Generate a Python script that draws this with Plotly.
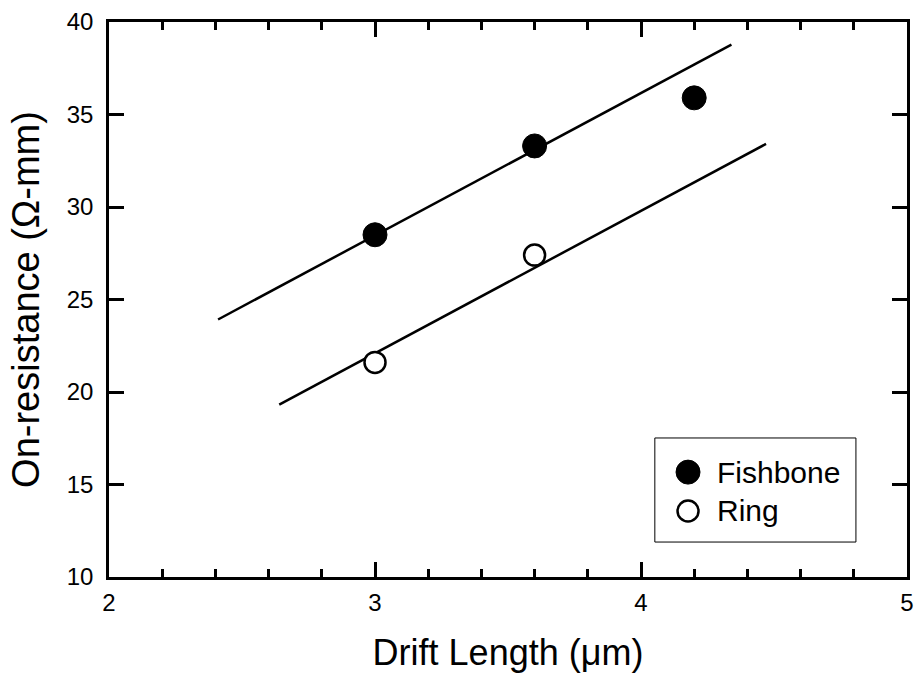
import plotly.graph_objects as go

# Measured on-resistance versus drift length
drift_length = [3.0, 3.6, 4.2]
fishbone_ron = [28.5, 33.3, 35.9]
ring_x = [3.0, 3.6]
ring_ron = [21.6, 27.4]

# Linear fit segments (end points)
fishbone_fit_x = [2.41, 4.34]
fishbone_fit_y = [23.92, 38.78]
ring_fit_x = [2.64, 4.47]
ring_fit_y = [19.32, 33.41]

x_ticks = [2, 3, 4, 5]
y_ticks = [10, 15, 20, 25, 30, 35, 40]

series_names = ["Fishbone", "Ring"]

FONT = "Liberation Sans, Arial, sans-serif"

filled = dict(symbol="circle", size=24, color="black", line=dict(color="black", width=1))
hollow = dict(symbol="circle", size=21, color="white", line=dict(color="black", width=2.5))

fig = go.Figure()

fig.add_trace(go.Scatter(x=fishbone_fit_x, y=fishbone_fit_y, mode="lines",
                         line=dict(color="black", width=2.5), showlegend=False,
                         hoverinfo="skip"))
fig.add_trace(go.Scatter(x=ring_fit_x, y=ring_fit_y, mode="lines",
                         line=dict(color="black", width=2.5), showlegend=False,
                         hoverinfo="skip"))

fig.add_trace(go.Scatter(x=drift_length, y=fishbone_ron, mode="markers",
                         name=series_names[0], marker=filled, showlegend=False))
fig.add_trace(go.Scatter(x=ring_x, y=ring_ron, mode="markers",
                         name=series_names[1], marker=hollow, showlegend=False))

# Legend box drawn on an overlay axis spanning the plot area in [0, 1] units
leg_x0, leg_x1, leg_y0, leg_y1 = 0.684, 0.936, 0.063, 0.2505
leg_sym_x = 0.7256
leg_txt_x = 0.759
leg_rows = [0.189, 0.119]

fig.add_shape(type="rect", xref="paper", yref="paper",
              x0=leg_x0, x1=leg_x1, y0=leg_y0, y1=leg_y1,
              line=dict(color="black", width=1), fillcolor="white", layer="below")
for row_y, name, style in zip(leg_rows, series_names, [filled, hollow]):
    fig.add_trace(go.Scatter(x=[leg_sym_x], y=[row_y], xaxis="x2", yaxis="y2",
                             mode="markers", marker=style, showlegend=False,
                             hoverinfo="skip"))
    fig.add_annotation(x=leg_txt_x, y=row_y, xref="paper", yref="paper",
                       text=name, showarrow=False, xanchor="left", yanchor="middle",
                       font=dict(family=FONT, size=30, color="black"))

axis_common = dict(
    showgrid=False, zeroline=False, showline=True, linecolor="black", linewidth=2.5,
    mirror="ticks", ticks="inside", tickcolor="black", tickwidth=2.5, ticklen=15,
    tickfont=dict(family=FONT, size=24, color="black"),
)

fig.update_xaxes(range=[2, 5], tickvals=x_ticks, ticklabelstandoff=2,
                 minor=dict(dtick=0.2, ticks="inside", ticklen=8, tickwidth=2.5,
                            tickcolor="black"),
                 title=dict(text="Drift Length (μm)", font=dict(family=FONT, size=36, color="black"),
                            standoff=26),
                 **axis_common)
fig.update_yaxes(range=[10, 40], tickvals=y_ticks, ticklabelstandoff=8,
                 title=dict(text="On-resistance (Ω-mm)", font=dict(family=FONT, size=38, color="black"),
                            standoff=16),
                 **axis_common)

fig.update_layout(
    width=918, height=688,
    margin=dict(l=109, r=11, t=22, b=111, autoexpand=False),
    plot_bgcolor="white", paper_bgcolor="white",
    xaxis2=dict(overlaying="x", range=[0, 1], visible=False, fixedrange=True),
    yaxis2=dict(overlaying="y", range=[0, 1], visible=False, fixedrange=True),
    showlegend=False,
)

fig.write_html("out.html")
